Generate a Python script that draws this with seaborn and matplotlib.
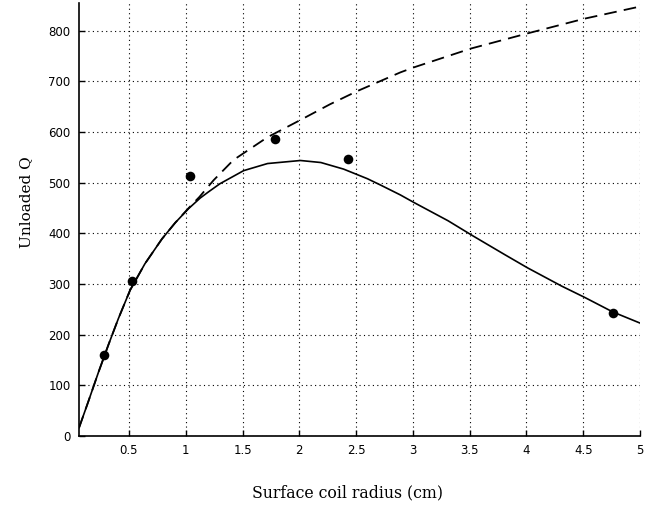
import matplotlib
matplotlib.use("Agg")
import matplotlib.pyplot as plt
import seaborn as sns
import pandas as pd

# Measured data points
meas_radius = [0.28, 0.53, 1.04, 1.79, 2.43, 4.76]
meas_q = [160, 307, 514, 587, 546, 243]

# Solid curve (model with losses)
solid_radius = [0.06, 0.142, 0.23, 0.319, 0.407, 0.51, 0.64, 0.79, 0.907, 1.025, 1.128,
                1.20, 1.30, 1.51, 1.72, 2.01, 2.19, 2.39, 2.60, 2.72, 2.89, 3.01, 3.31,
                3.53, 3.81, 4.01, 4.31, 4.51, 4.76, 5.00]
solid_q = [16, 68, 125, 180, 232, 288, 340, 389, 421, 449, 470,
           482, 498, 524, 538, 544, 540, 527, 508, 495, 476, 461, 425,
           395, 358, 332, 296, 274, 245, 223]

# Dashed curve (model)
dashed_radius = [0.06, 0.142, 0.23, 0.319, 0.407, 0.51, 0.64, 0.79, 0.907, 1.025, 1.12,
                 1.245, 1.42, 1.72, 2.01, 2.27, 2.51, 2.89, 3.01, 3.51, 4.01, 4.51, 5.00]
dashed_q = [16, 68, 125, 180, 232, 288, 340, 389, 421, 450, 472,
            505, 545, 590, 624, 655, 681, 718, 728, 765, 795, 824, 848]

x_ticks = [0.5, 1, 1.5, 2, 2.5, 3, 3.5, 4, 4.5, 5]
x_tick_labels = ["0.5", "1", "1.5", "2", "2.5", "3", "3.5", "4", "4.5", "5"]
y_ticks = [0, 100, 200, 300, 400, 500, 600, 700, 800]

sns.set_style("ticks")
plt.rcParams['font.family'] = ['DejaVu Sans']
plt.rcParams['text.color'] = 'black'
plt.rcParams['axes.labelcolor'] = 'black'

fig = plt.figure(figsize=(6.59, 5.05), dpi=100)
ax = fig.add_axes([79/659, 1 - 436/505, (640 - 79)/659, (436 - 3)/505])

df_solid = pd.DataFrame({"r": solid_radius, "q": solid_q})
df_dash = pd.DataFrame({"r": dashed_radius, "q": dashed_q})
df_meas = pd.DataFrame({"r": meas_radius, "q": meas_q})

sns.lineplot(data=df_dash, x="r", y="q", ax=ax, color="black", linewidth=1.3,
             linestyle=(0, (7, 4)), sort=False)
sns.lineplot(data=df_solid, x="r", y="q", ax=ax, color="black", linewidth=1.2, sort=False)
sns.scatterplot(data=df_meas, x="r", y="q", ax=ax, color="black", s=48, edgecolor="black",
                linewidth=0, zorder=5)

ax.set_xlim(0.06, 5.0)
ax.set_ylim(0, 855)
ax.set_xticks(x_ticks)
ax.set_xticklabels(x_tick_labels)
ax.set_yticks(y_ticks)

ax.grid(True, color="black", linestyle=(0, (1, 3)), linewidth=0.8)
ax.set_axisbelow(True)

for side in ["top", "right"]:
    ax.spines[side].set_visible(False)
for side in ["left", "bottom"]:
    ax.spines[side].set_linewidth(1.2)
    ax.spines[side].set_color("black")

ax.tick_params(direction="in", length=4, width=1, labelsize=8.5, colors="black", pad=6)

ax.set_xlabel("Surface coil radius (cm)", family="DejaVu Serif", fontsize=11.3, va="center")
ax.set_ylabel("Unloaded Q", family="DejaVu Serif", fontsize=11, va="center")
ax.xaxis.set_label_coords(0.478, -0.132)
ax.yaxis.set_label_coords(-0.094, 0.54)

fig.savefig("out.png", dpi=100)
